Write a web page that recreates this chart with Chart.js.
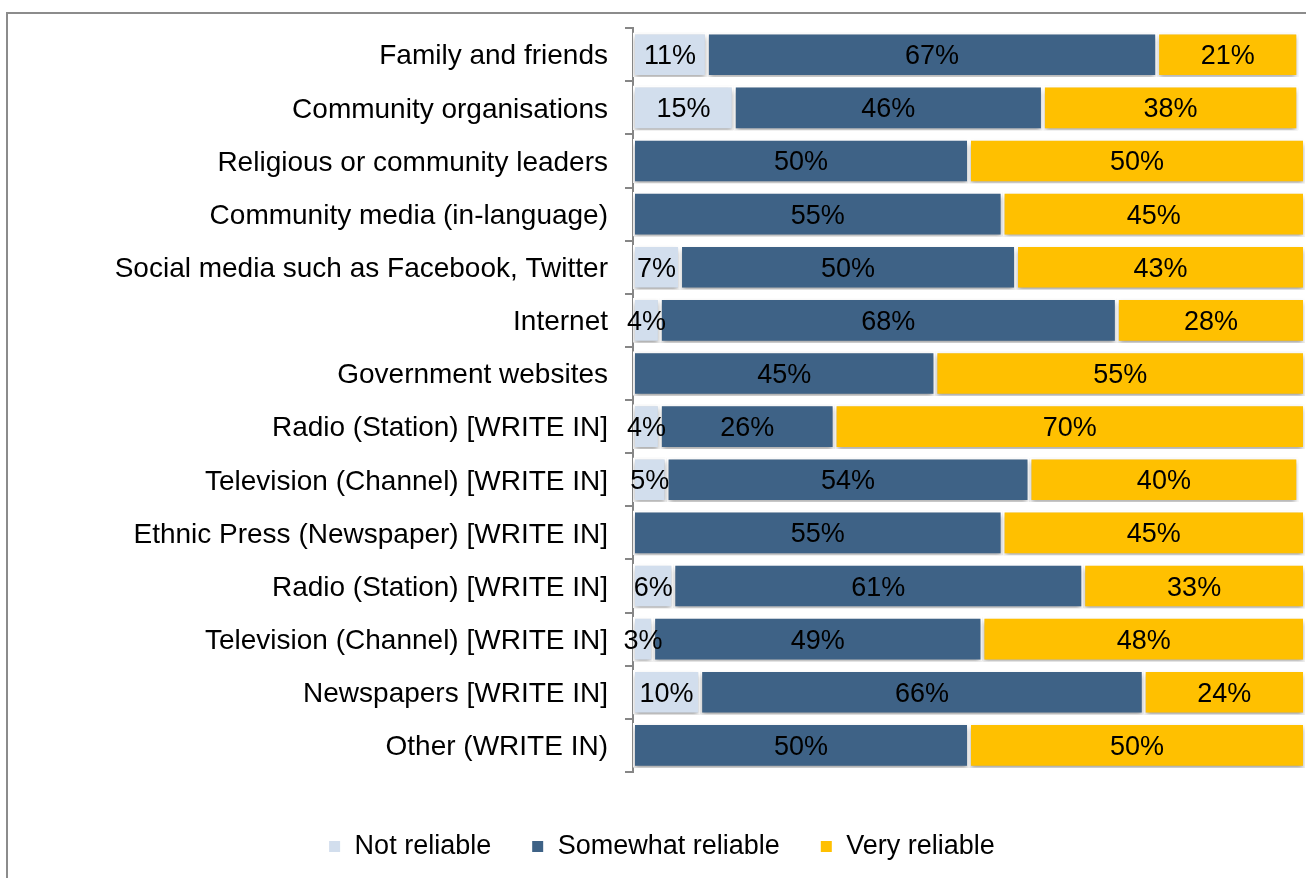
<!DOCTYPE html>
<html>
<head>
<meta charset="utf-8">
<script src="https://cdn.jsdelivr.net/npm/chart.js@4"></script>
<style>
  html, body { margin: 0; padding: 0; background: #fff; overflow: hidden; }
  #frame { position: absolute; left: 6px; top: 12px; width: 1400px; height: 1000px;
           border-left: 2px solid #8c8c8c; border-top: 2px solid #8c8c8c; }
  #wrap { position: absolute; left: 0; top: 0; width: 1306px; height: 878px; }
</style>
</head>
<body>
<div id="frame"></div>
<div id="wrap"><canvas id="chart"></canvas></div>
<script>
const categories = [
    'Family and friends',
    'Community organisations',
    'Religious or community leaders',
    'Community media (in-language)',
    'Social media such as Facebook, Twitter',
    'Internet',
    'Government websites',
    'Radio (Station) [WRITE IN]',
    'Television (Channel) [WRITE IN]',
    'Ethnic Press (Newspaper) [WRITE IN]',
    'Radio (Station) [WRITE IN]',
    'Television (Channel) [WRITE IN]',
    'Newspapers [WRITE IN]',
    'Other (WRITE IN)'
]

const notReliable      = [11, 15, 0, 0, 7, 4, 0, 4, 5, 0, 6, 3, 10, 0]
const somewhatReliable = [67, 46, 50, 55, 50, 68, 45, 26, 54, 55, 61, 49, 66, 50]
const veryReliable     = [21, 38, 50, 45, 43, 28, 55, 70, 40, 45, 33, 48, 24, 50]

const fontFamily = '"Liberation Sans", Arial, sans-serif'

// drop shadow under the bars
const shadowPlugin = {
    id: 'barShadow',
    beforeDatasetsDraw(chart) {
        const c = chart.ctx
        c.save()
        c.shadowColor = 'rgba(0,0,0,0.35)'
        c.shadowBlur = 5
        c.shadowOffsetY = 3
    },
    afterDatasetsDraw(chart) {
        chart.ctx.restore()
    }
}

// percentage text centred on each segment
const valueLabels = {
    id: 'valueLabels',
    afterDatasetsDraw(chart) {
        const c = chart.ctx
        c.save()
        c.font = '27px ' + fontFamily
        c.fillStyle = '#000'
        c.textAlign = 'center'
        c.textBaseline = 'middle'
        chart.data.datasets.forEach((ds, i) => {
            const meta = chart.getDatasetMeta(i)
            meta.data.forEach((bar, j) => {
                const v = ds.data[j]
                if (!v) return // no label for empty segments
                const cx = (bar.x + bar.base) / 2
                c.fillText(v + '%', cx, bar.y + 2)
            })
        })
        c.restore()
    }
}

const ctx = document.getElementById('chart')

let config = {
    type: 'bar',
    data: {
        labels: categories,
        datasets: [
            { label: 'Not reliable', data: notReliable, backgroundColor: '#d2deed' },
            { label: 'Somewhat reliable', data: somewhatReliable, backgroundColor: '#3e6286' },
            { label: 'Very reliable', data: veryReliable, backgroundColor: '#ffc000' }
        ]
    },
    options: {
        indexAxis: 'y',
        responsive: true,
        maintainAspectRatio: false,
        animation: false,
        datasets: {
            bar: {
                borderColor: '#ffffff',
                borderWidth: 2,
                borderSkipped: false,
                categoryPercentage: 0.84,
                barPercentage: 1.0
            }
        },
        layout: { padding: { left: 18, right: 1, top: 27, bottom: 8 } },
        plugins: {
            tooltip: { enabled: false },
            legend: {
                position: 'bottom',
                labels: {
                    boxWidth: 13,
                    boxHeight: 13,
                    padding: 40,
                    color: '#000',
                    font: { family: fontFamily, size: 27 }
                }
            }
        },
        scales: {
            x: {
                stacked: true,
                min: 0,
                max: 100,
                grid: { display: false },
                border: { display: false },
                ticks: { display: false },
                afterFit: (scale) => { scale.height = 21 }
            },
            y: {
                stacked: true,
                grid: {
                    drawOnChartArea: false,
                    drawTicks: true,
                    tickLength: 8,
                    color: '#868686',
                    lineWidth: 2,
                    offset: true
                },
                border: { display: true, color: '#868686', width: 2 },
                ticks: {
                    color: '#000',
                    padding: 17,
                    labelOffset: 2,
                    font: { family: fontFamily, size: 28, lineHeight: 0.8 }
                },
                afterFit: (scale) => { scale.width = 615 }
            }
        }
    },
    plugins: [shadowPlugin, valueLabels]
}

const chart = new Chart(ctx, config)
</script>
</body>
</html>
